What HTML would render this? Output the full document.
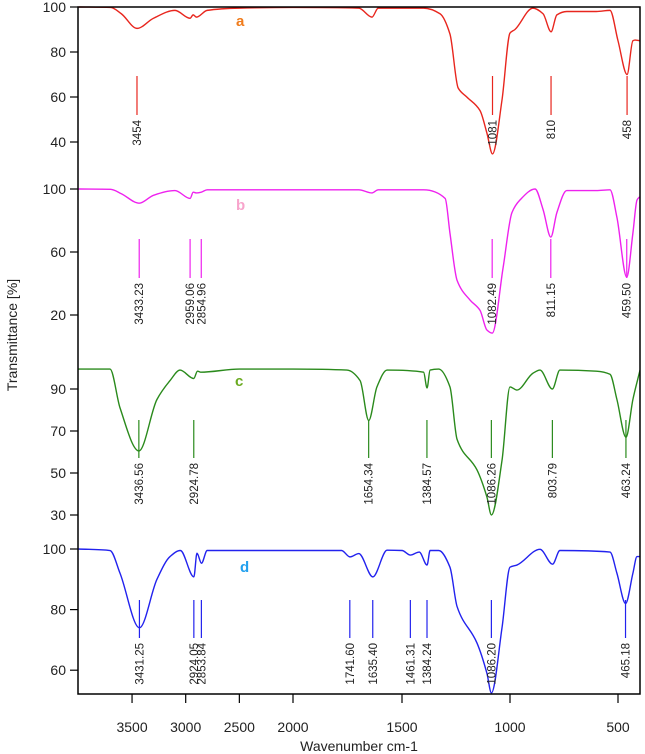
<!DOCTYPE html>
<html><head><meta charset="utf-8"><style>
html,body{margin:0;padding:0;background:#fff;}
svg{display:block;font-family:"Liberation Sans",Arial,sans-serif;}
</style></head><body>
<svg id="chart" width="645" height="754" viewBox="0 0 645 754"></svg>
<script>
// ---- data ----
const xTicks = [3500, 3000, 2500, 2000, 1500, 1000, 500];
const panelNames = ['a', 'b', 'c', 'd'];
const yTicksA = [100, 80, 60, 40];
const yTicksB = [100, 60, 20];
const yTicksC = [90, 70, 50, 30];
const yTicksD = [100, 80, 60];
const waveA = [4000,3700,3600,3454,3300,3100,2960,2930,2900,2800,2500,2000,1700,1639,1610,1400,1324,1278,1240,1200,1139,1107,1081,1037,1000,977,894,847,810,783,737,600,537,500,458,431,421,400];
const transA = [100,99.8,97,90.5,95,98.5,95,96.5,95.5,98.5,99.5,99.8,99.5,95.5,99.5,99.5,97,88,64,60,54,44,34.7,58.7,88.4,90,99.5,97,89,96.5,98,98,98.5,85,70,85,85.3,85];
const waveB = [4000,3700,3600,3433,3300,3100,2959,2930,2900,2855,2800,2500,2000,1700,1639,1610,1400,1300,1278,1245,1185,1139,1107,1082,1032,991,954,884,847,811,783,737,600,537,505,459.5,431,412,400];
const transB = [100,99.8,97,91,96,99,94,98,97.5,98,99.5,99.5,99.5,99.5,97.5,99.5,99.5,94,72,42,29.5,23,10.5,8.5,50,85,93,100,87,69.5,85,99,99,99.5,82,44,72,93,95];
const waveC = [4000,3705,3612,3436,3268,3146,3053,2925,2890,2860,2500,2000,1755,1694,1654,1616,1569,1400,1384,1370,1330,1278,1245,1153,1107,1086,1037,1000,968,894,861,804,769,600,537,505,463,431,398];
const transC = [99.5,99.5,81,60.5,85,94,99,95,98.5,98,99.5,99.5,99,94,75,91,99,98,90.5,99,99.5,91,66,51.5,38.6,30,56,91,89.5,97.5,99,90,99,98.5,97,85,67,85,99];
const waveD = [4000,3705,3612,3431,3268,3146,3050,2924,2895,2853,2800,2000,1780,1741,1700,1635,1569,1500,1461,1420,1384,1370,1330,1278,1245,1153,1107,1086,1037,1000,968,861,803,769,537,505,465,431,412,400];
const transD = [100,99.5,92,74,90,97.5,99.5,90.8,98.6,95.3,99.5,99.5,99.5,97.4,98.5,90.8,99.6,99.5,98,99,94.7,99.5,99.5,94,81,69,59,52.5,74,94,94.7,99.9,95,99.5,99,92,82,92,97.5,97.5];
const peaksA = [3454, 1081, 810, 458];
const peakLabelsA = ['3454', '1081', '810', '458'];
const peaksB = [3433.23, 2959.06, 2854.96, 1082.49, 811.15, 459.50];
const peakLabelsB = ['3433.23', '2959.06', '2854.96', '1082.49', '811.15', '459.50'];
const peaksC = [3436.56, 2924.78, 1654.34, 1384.57, 1086.26, 803.79, 463.24];
const peakLabelsC = ['3436.56', '2924.78', '1654.34', '1384.57', '1086.26', '803.79', '463.24'];
const peaksD = [3431.25, 2924.05, 2853.84, 1741.60, 1635.40, 1461.31, 1384.24, 1086.20, 465.18];
const peakLabelsD = ['3431.25', '2924.05', '2853.84', '1741.60', '1635.40', '1461.31', '1384.24', '1086.20', '465.18'];

// ---- layout ----
const NS = 'http://www.w3.org/2000/svg';
const svg = document.getElementById('chart');
const L = 78, R = 640, T = 7, B = 694;
function xScale(w) {
  if (w >= 2000) return 293 - (w - 2000) * 0.1073;
  return 510 + (1000 - w) * 0.216;
}
const panels = [
  {name:'a', top:7, ppu:2.25, ticks:yTicksA, waves:waveA, trans:transA, peaks:peaksA, labels:peakLabelsA, color:'#e8261e', lblColor:'#f07c1c', lx:236, ly:26, mk:[76,115]},
  {name:'b', top:189, ppu:1.575, ticks:yTicksB, waves:waveB, trans:transB, peaks:peaksB, labels:peakLabelsB, color:'#ee22ee', lblColor:'#f8a4cc', lx:236, ly:210, mk:[239,278]},
  {name:'c', top:368, ppu:2.1, ticks:yTicksC, waves:waveC, trans:transC, peaks:peaksC, labels:peakLabelsC, color:'#2a8a1c', lblColor:'#6aaa20', lx:235, ly:386, mk:[420,458]},
  {name:'d', top:549, ppu:3.03, ticks:yTicksD, waves:waveD, trans:transD, peaks:peaksD, labels:peakLabelsD, color:'#2222ee', lblColor:'#22a0ee', lx:240, ly:572, mk:[600,638]}
];
function el(tag, attrs, parent) {
  const e = document.createElementNS(NS, tag);
  for (const k in attrs) e.setAttribute(k, attrs[k]);
  (parent || svg).appendChild(e);
  return e;
}
// monotone cubic (Fritsch-Carlson) in pixel space, x increasing
function monoPath(pts) {
  const n = pts.length;
  const dx = [], m = [], s = [];
  for (let i = 0; i < n - 1; i++) {
    dx[i] = pts[i + 1][0] - pts[i][0];
    s[i] = (pts[i + 1][1] - pts[i][1]) / dx[i];
  }
  m[0] = s[0]; m[n - 1] = s[n - 2];
  for (let i = 1; i < n - 1; i++) {
    if (s[i - 1] * s[i] <= 0) m[i] = 0;
    else {
      const w1 = 2 * dx[i] + dx[i - 1], w2 = dx[i] + 2 * dx[i - 1];
      m[i] = (w1 + w2) / (w1 / s[i - 1] + w2 / s[i]);
    }
  }
  let d = 'M' + pts[0][0].toFixed(2) + ' ' + pts[0][1].toFixed(2);
  for (let i = 0; i < n - 1; i++) {
    const h = dx[i] / 3;
    d += 'C' + (pts[i][0] + h).toFixed(2) + ' ' + (pts[i][1] + m[i] * h).toFixed(2) + ' ' +
      (pts[i + 1][0] - h).toFixed(2) + ' ' + (pts[i + 1][1] - m[i + 1] * h).toFixed(2) + ' ' +
      pts[i + 1][0].toFixed(2) + ' ' + pts[i + 1][1].toFixed(2);
  }
  return d;
}
const clip = el('clipPath', {id:'plotclip'});
el('rect', {x:L, y:T - 1, width:R - L, height:B - T + 1}, clip);

panels.forEach(p => {
  const yS = v => p.top + (100 - v) * p.ppu;
  const g = el('g', {});
  
  
  p.ticks.forEach(v => {
    const y = yS(v);
    const tk = el('line', {x1:70, x2:L, y1:y, y2:y, stroke:'#000', 'stroke-width':1.2}, g);
    
    
    const tl = el('text', {x:66, y:y + 5, 'text-anchor':'end', 'font-size':14, fill:'#222'}, g);
    tl.textContent = v;
    
    
  });
  const pts = p.waves.map((w, i) => [xScale(w), yS(p.trans[i])]);
  const path = el('path', {d:monoPath(pts), fill:'none', stroke:p.color, 'stroke-width':1.4, 'clip-path':'url(#plotclip)'}, g);
  
  
  p.peaks.forEach((w, i) => {
    const x = xScale(w);
    const m = el('line', {x1:x, x2:x, y1:p.mk[0], y2:p.mk[1], stroke:p.color, 'stroke-width':1.2}, g);
    
    
    const ty = p.mk[1] + 5;
    const t = el('text', {x:x + 4, y:ty, 'text-anchor':'end', 'font-size':11.5, fill:'#222', transform:'rotate(-90 ' + (x + 4) + ' ' + ty + ')'}, g);
    t.textContent = p.labels[i];
    
    
  });
  const lb = el('text', {x:p.lx, y:p.ly, 'font-size':15, 'font-weight':'bold', fill:p.lblColor}, g);
  lb.textContent = p.name;
  
  
});

const frame = el('rect', {x:L, y:T, width:R - L, height:B - T, fill:'none', stroke:'#000', 'stroke-width':1.5});


xTicks.forEach(w => {
  const x = xScale(w);
  const tk = el('line', {x1:x, x2:x, y1:B, y2:B + 9, stroke:'#000', 'stroke-width':1.2});
  
  
  const tl = el('text', {x:x, y:732, 'text-anchor':'middle', 'font-size':14, fill:'#222'});
  tl.textContent = w;
  
  
});
const xt = el('text', {x:359, y:751, 'text-anchor':'middle', 'font-size':14, fill:'#222'});
xt.textContent = 'Wavenumber cm-1';


const yt = el('text', {x:0, y:0, 'text-anchor':'middle', 'font-size':14, fill:'#222', transform:'translate(17 335) rotate(-90)'});
yt.textContent = 'Transmittance [%]';


</script>
</body></html>
